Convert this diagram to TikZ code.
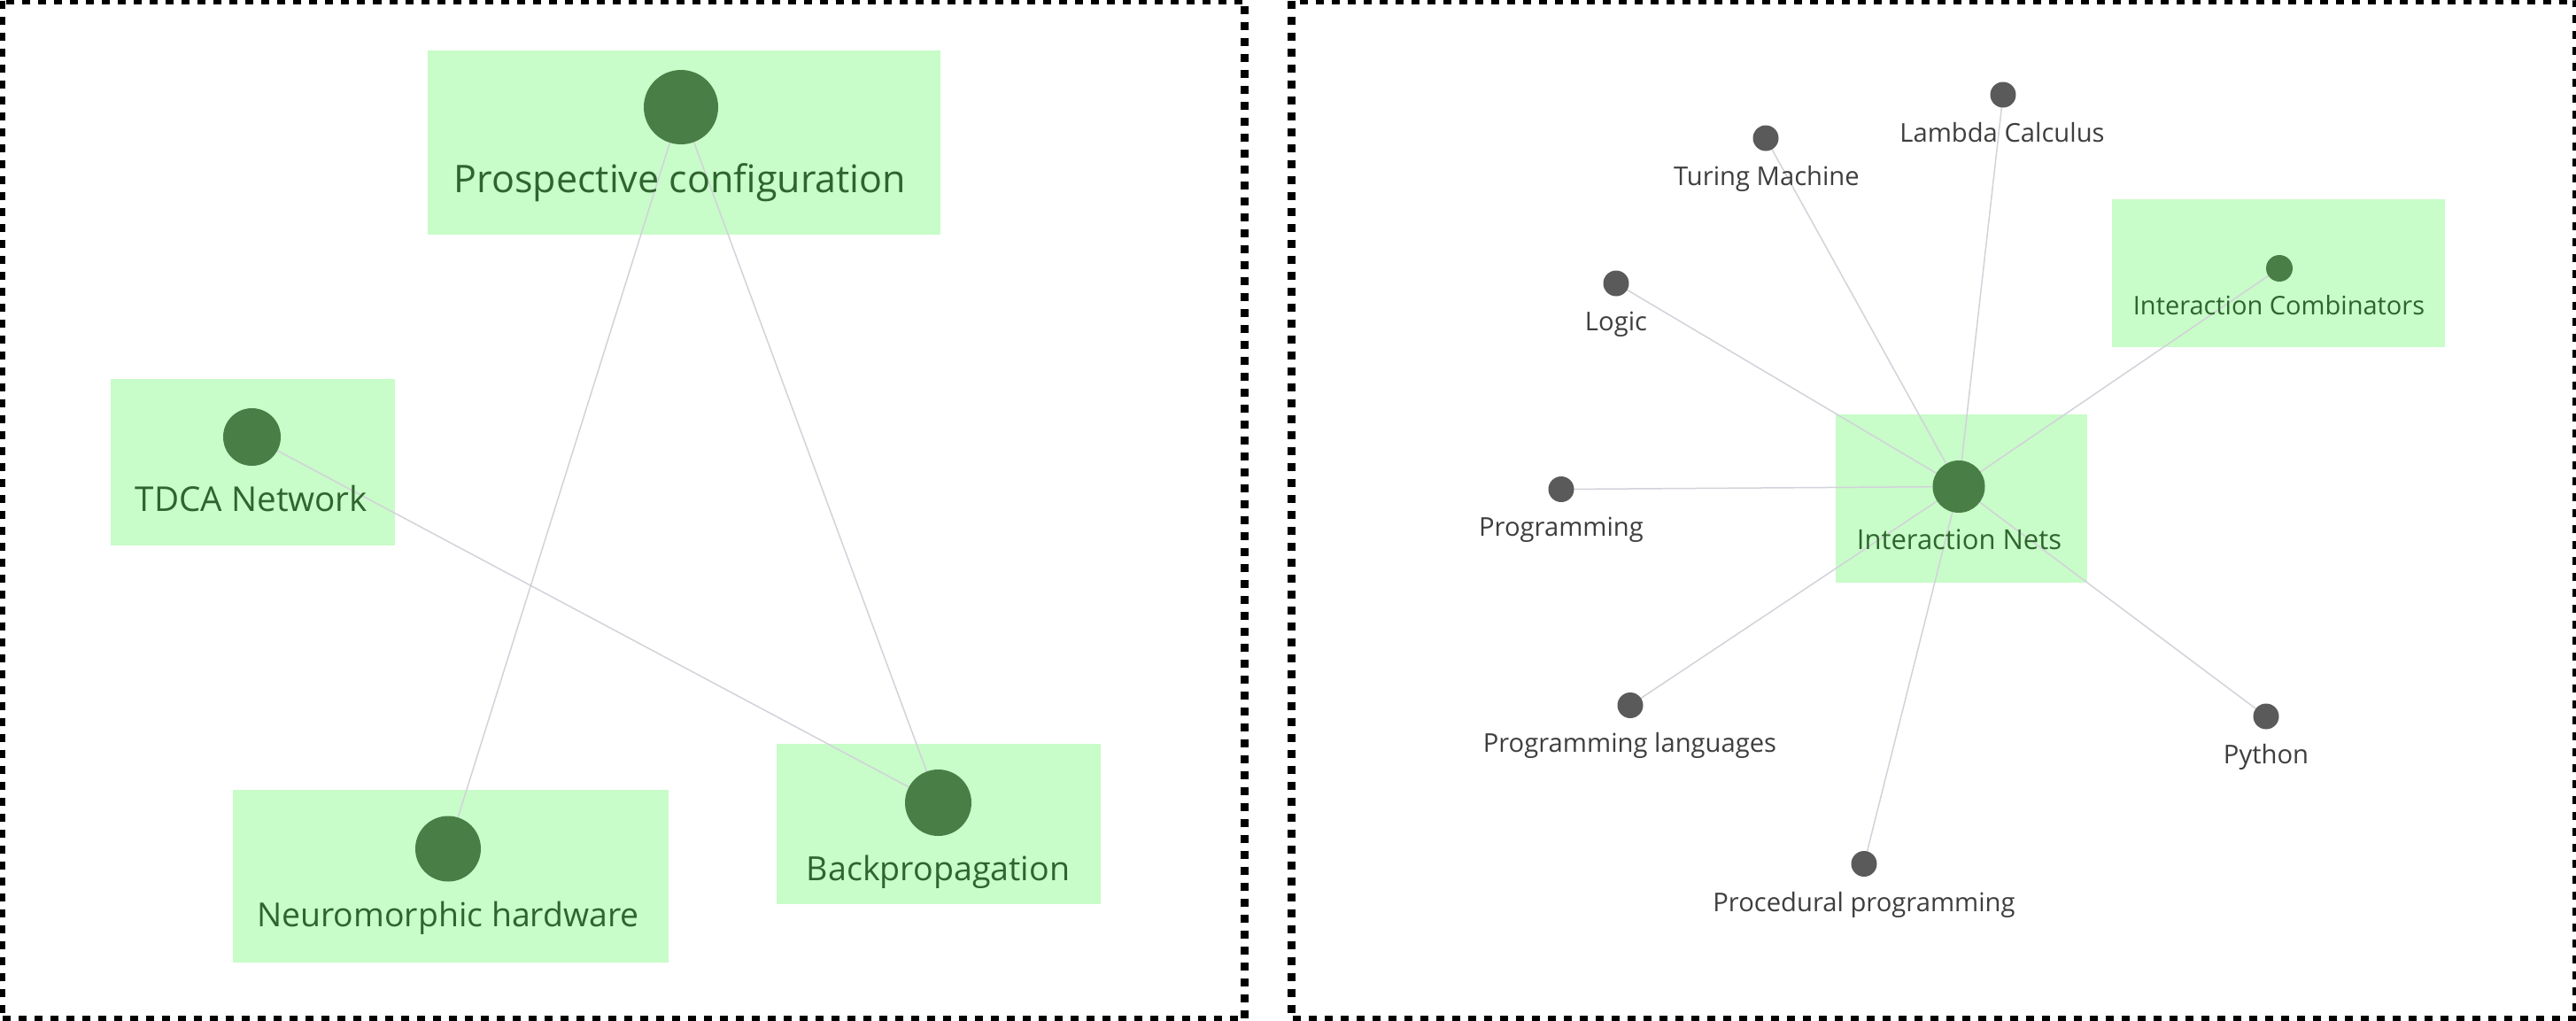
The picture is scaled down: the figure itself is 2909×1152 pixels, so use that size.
\documentclass[tikz,border=0pt]{standalone}
\usepackage{fontspec}
\setmainfont{Open Sans}
\definecolor{boxfill}{RGB}{200,252,200}
\definecolor{dotgreen}{RGB}{74,126,71}
\definecolor{txtgreen}{RGB}{48,100,46}
\definecolor{dotgray}{RGB}{90,90,90}
\definecolor{txtgray}{RGB}{62,62,62}
\definecolor{edgegray}{RGB}{210,210,218}
\tikzset{
  panel/.style={draw=black, line width=4.5pt, dash pattern=on 4.5pt off 4.5pt},
  gbox/.style={fill=boxfill, draw=none, inner sep=0pt, rectangle},
  gdot/.style={circle, fill=dotgreen, draw=none, inner sep=0pt},
  ydot/.style={circle, fill=dotgray, draw=none, inner sep=0pt, minimum size=14.5pt},
  link/.style={draw=edgegray, line width=0.75pt},
  biglbl/.style={anchor=base, inner sep=0pt, text=txtgreen},
  glbl/.style={anchor=base, inner sep=0pt, text=txtgreen},
  ylbl/.style={anchor=base, inner sep=0pt, text=txtgray, font=\fontsize{14.6}{17}\selectfont},
}
\begin{document}
\begin{tikzpicture}[x=0.5pt, y=-0.5pt]
\useasboundingbox (0,0) rectangle (2909,1152);
% panels
\draw[panel] (1.5,0.5) rectangle (1405.5,1151);
\draw[panel] (1458.5,0.5) rectangle (2909,1151);

% ---------- left panel ----------
\node[gbox, minimum width=289.5pt, minimum height=104pt] (pbox) at (772.5,161) {};
\node[gbox, minimum width=160.5pt, minimum height=94pt] (tbox) at (285.5,522) {};
\node[gbox, minimum width=246pt, minimum height=97.5pt] (nbox) at (509,989.5) {};
\node[gbox, minimum width=182.75pt, minimum height=90.5pt] (bbox) at (1060,930.5) {};

\coordinate (pc) at (769,121);
\coordinate (tc) at (284.5,493.5);
\coordinate (nc) at (506,958.5);
\coordinate (bc) at (1059.5,906.5);

\draw[link] (pc) -- (nc);
\draw[link] (pc) -- (bc);
\draw[link] (tc) -- (bc);

\node[gdot, minimum size=42pt] (pdot) at (pc) {};
\node[gdot, minimum size=32.5pt] (tdot) at (tc) {};
\node[gdot, minimum size=37pt] (ndot) at (nc) {};
\node[gdot, minimum size=37.5pt] (bdot) at (bc) {};

\node[biglbl, font=\fontsize{21.5}{25}\selectfont] (plbl) at (768,217) {Prospective configuration};
\node[biglbl, font=\fontsize{19.3}{23}\selectfont] (tlbl) at (284,577) {TDCA Network};
\node[biglbl, font=\fontsize{18.7}{22}\selectfont] (nlbl) at (506,1046) {Neuromorphic hardware};
\node[biglbl, font=\fontsize{18.8}{22}\selectfont] (blbl) at (1059.5,994) {Backpropagation};

% ---------- right panel ----------
\node[gbox, minimum width=142pt, minimum height=95pt] (inbox) at (2215,563) {};
\node[gbox, minimum width=188pt, minimum height=83.5pt] (icbox) at (2573,308.5) {};

\coordinate (inc) at (2212,549.5);
\coordinate (icc) at (2574,303);
\coordinate (lac) at (2262,107);
\coordinate (tuc) at (1994,156);
\coordinate (loc) at (1825,320);
\coordinate (prc) at (1763,552.5);
\coordinate (plc) at (1841,796.5);
\coordinate (ppc) at (2105,975.5);
\coordinate (pyc) at (2559,809);

\foreach \t in {icc,lac,tuc,loc,prc,plc,ppc,pyc}{
  \draw[link] (inc) -- (\t);
}

\node[gdot, minimum size=29.5pt] (indot) at (inc) {};
\node[gdot, minimum size=15pt] (icdot) at (icc) {};
\node[ydot] (ladot) at (lac) {};
\node[ydot] (tudot) at (tuc) {};
\node[ydot] (lodot) at (loc) {};
\node[ydot] (prdot) at (prc) {};
\node[ydot] (pldot) at (plc) {};
\node[ydot] (ppdot) at (ppc) {};
\node[ydot] (pydot) at (pyc) {};

\node[glbl, font=\fontsize{15.5}{18}\selectfont] (inlbl) at (2212.5,620) {Interaction Nets};
\node[glbl, font=\fontsize{14.5}{17}\selectfont] (iclbl) at (2573.5,355) {Interaction Combinators};
\node[ylbl] (lalbl) at (2261,160) {Lambda Calculus};
\node[ylbl] (tulbl) at (1995,209) {Turing Machine};
\node[ylbl] (lolbl) at (1825,373) {Logic};
\node[ylbl] (prlbl) at (1763,605) {Programming};
\node[ylbl] (pllbl) at (1840.5,849.5) {Programming languages};
\node[ylbl] (pplbl) at (2105,1029) {Procedural programming};
\node[ylbl] (pylbl) at (2559,862) {Python};
\end{tikzpicture}
\end{document}
